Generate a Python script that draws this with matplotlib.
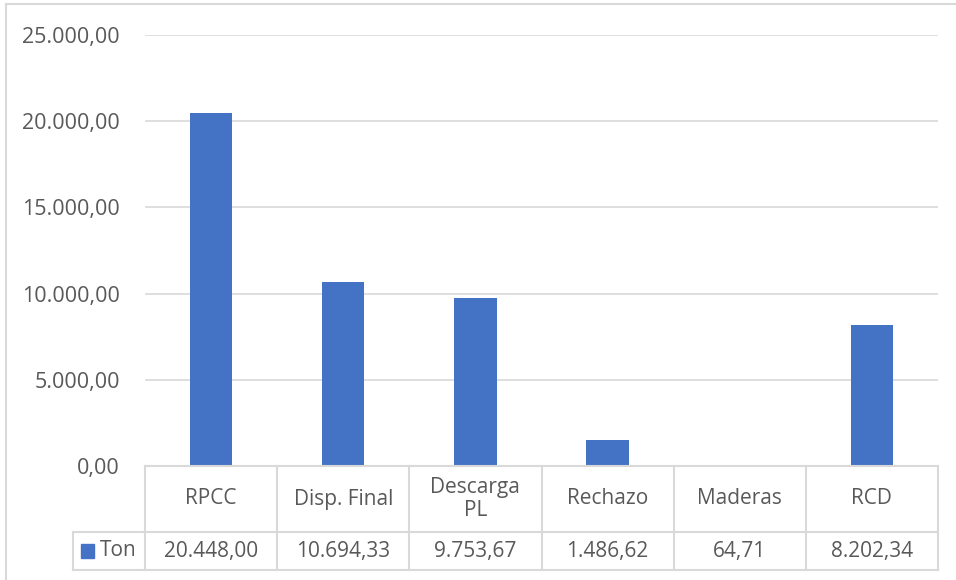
import matplotlib.pyplot as plt
from matplotlib.lines import Line2D
from matplotlib.patches import Rectangle

# datos
categorias = ['RPCC', 'Disp. Final', 'Descarga\nPL', 'Rechazo', 'Maderas', 'RCD']
ton = [20448.00, 10694.33, 9753.67, 1486.62, 64.71, 8202.34]
serie = 'Ton'
y_ticks = [0, 5000, 10000, 15000, 20000, 25000]

W, H = 956, 580
color_bar = '#4472C4'
color_line = '#D9D9D9'
color_text = '#595959'

plt.rcParams['font.family'] = ['Open Sans', 'DejaVu Sans']


def fmt(v):
    # formato español: 20.448,00
    s = f'{v:,.2f}'
    return s.replace(',', 'X').replace('.', ',').replace('X', '.')


def fx(x):
    return x / W


def fy(y):
    return 1 - y / H


fig = plt.figure(figsize=(W / 100, H / 100), dpi=100)

# area del grafico en pixeles
x0, x1 = 145, 938
y_top, y_zero = 35, 466
ax = fig.add_axes([fx(x0), fy(y_zero), fx(x1) - fx(x0), (y_zero - y_top) / H])

x_pos = list(range(len(categorias)))
ax.bar(x_pos, ton, width=0.32, color=color_bar, zorder=3)
ax.set_xlim(-0.5, len(categorias) - 0.5)
ax.set_ylim(0, 25000)
ax.set_yticks(y_ticks)
ax.set_yticklabels([fmt(t) for t in y_ticks], fontsize=15.5, color=color_text)
ax.tick_params(axis='y', length=0, pad=18)
ax.set_xticks([])
ax.grid(True, axis='y', color=color_line, linewidth=1.2, zorder=0)
for s in ax.spines.values():
    s.set_visible(False)

# tabla de datos
col_w = (x1 - x0) / len(categorias)
row1_bot, row2_bot = 532, 570
leg_x = 73
fs_tabla = 15


def hline(xa, xb, y):
    fig.add_artist(Line2D([fx(xa), fx(xb)], [fy(y), fy(y)], color=color_line, lw=1.5))


def vline(x, ya, yb):
    fig.add_artist(Line2D([fx(x), fx(x)], [fy(ya), fy(yb)], color=color_line, lw=1.5))


hline(x0, x1, y_zero)
hline(leg_x, x1, row1_bot)
hline(leg_x, x1, row2_bot)
for i in range(len(categorias) + 1):
    vline(x0 + i * col_w, y_zero, row2_bot)
vline(leg_x, row1_bot, row2_bot)

for i, (c, v) in enumerate(zip(categorias, ton)):
    cx = x0 + (i + 0.5) * col_w
    fig.text(fx(cx), fy((y_zero + row1_bot) / 2), c, ha='center', va='center',
             fontsize=fs_tabla, color=color_text, linespacing=1.15)
    fig.text(fx(cx), fy((row1_bot + row2_bot) / 2), fmt(v), ha='center', va='center',
             fontsize=fs_tabla, color=color_text)

# leyenda en la tabla
fig.add_artist(Rectangle((fx(81), fy(558)), fx(94) - fx(81), fy(544) - fy(558),
                         color=color_bar, transform=fig.transFigure))
fig.text(fx(100), fy((row1_bot + row2_bot) / 2), serie, ha='left', va='center',
         fontsize=fs_tabla, color=color_text)

# borde del area del grafico
fig.add_artist(Line2D([fx(6), fx(W)], [fy(4), fy(4)], color=color_line, lw=1.5))
fig.add_artist(Line2D([fx(6), fx(6)], [fy(4), fy(H)], color=color_line, lw=1.5))

plt.savefig('out.png', dpi=100)
